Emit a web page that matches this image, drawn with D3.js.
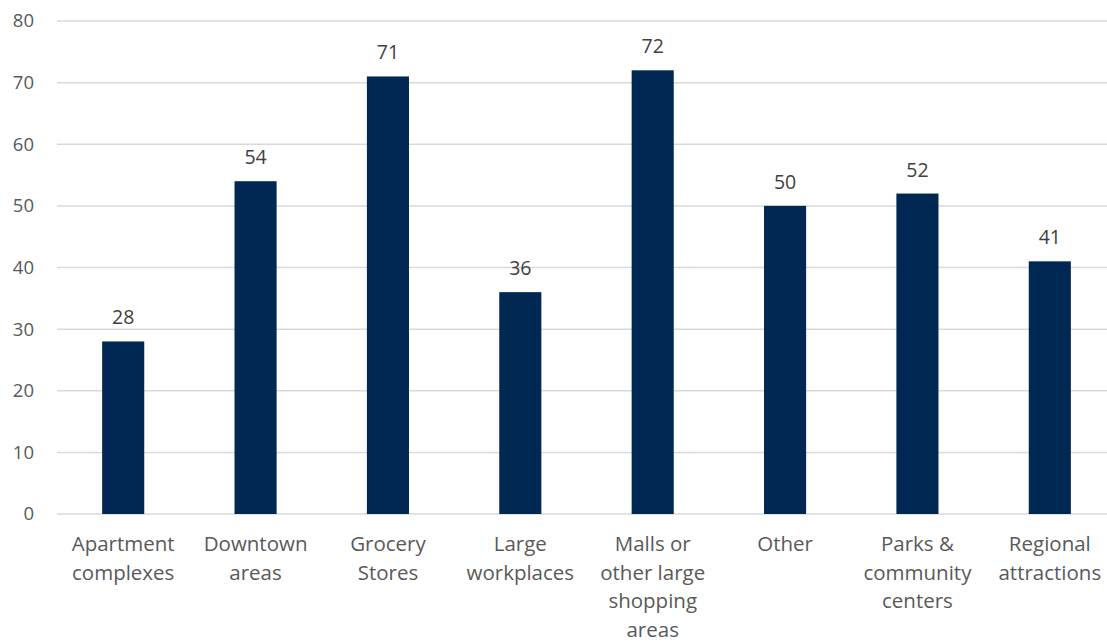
<html>
<head>
<script src="https://cdn.jsdelivr.net/npm/d3@7"></script>
<style>
body { margin: 0; background: white; }
text { font-family: "Open Sans", sans-serif; }
</style>
</head>
<body>
<div id="chart"></div>
<script>
// data
var categories = [
    ["Apartment", "complexes"],
    ["Downtown", "areas"],
    ["Grocery", "Stores"],
    ["Large", "workplaces"],
    ["Malls or", "other large", "shopping", "areas"],
    ["Other"],
    ["Parks &", "community", "centers"],
    ["Regional", "attractions"]
];
var values = [28, 54, 71, 36, 72, 50, 52, 41];
var yTicks = [0, 10, 20, 30, 40, 50, 60, 70, 80];

var width = 1107, height = 643;
var plotLeft = 57, plotRight = 1116, plotTop = 21, plotBottom = 514;

var svg = d3.select("#chart").append("svg")
    .attr("width", width)
    .attr("height", height);

var x = d3.scaleBand()
    .domain(d3.range(values.length))
    .range([plotLeft, plotRight])
    .paddingInner(0.682)
    .paddingOuter(0.341);

var y = d3.scaleLinear()
    .domain([0, 80])
    .range([plotBottom, plotTop]);

// gridlines
svg.append("g")
    .selectAll("line")
    .data(yTicks)
    .enter()
    .append("line")
    .attr("x1", plotLeft)
    .attr("x2", plotRight)
    .attr("y1", function(d) { return y(d); })
    .attr("y2", function(d) { return y(d); })
    .attr("stroke", "#d9d9d9")
    .attr("stroke-width", 1.5);

// y labels
svg.append("g")
    .selectAll("text")
    .data(yTicks)
    .enter()
    .append("text")
    .attr("x", 34)
    .attr("y", function(d) { return y(d); })
    .attr("dy", "0.35em")
    .attr("text-anchor", "end")
    .attr("font-size", 18.5)
    .attr("fill", "#595959")
    .text(function(d) { return d; });

// bars
svg.append("g")
    .selectAll("rect")
    .data(values)
    .enter()
    .append("rect")
    .attr("x", function(d, i) { return x(i); })
    .attr("y", function(d) { return y(d); })
    .attr("width", x.bandwidth())
    .attr("height", function(d) { return plotBottom - y(d); })
    .attr("fill", "#012853");

// value labels
svg.append("g")
    .selectAll("text")
    .data(values)
    .enter()
    .append("text")
    .attr("x", function(d, i) { return x(i) + x.bandwidth() / 2; })
    .attr("y", function(d) { return y(d) - 17; })
    .attr("text-anchor", "middle")
    .attr("font-size", 19.5)
    .attr("fill", "#404040")
    .text(function(d) { return d; });

// category labels
var cat = svg.append("g")
    .selectAll("text")
    .data(categories)
    .enter()
    .append("text")
    .attr("text-anchor", "middle")
    .attr("font-size", 20.5)
    .attr("fill", "#595959")
    .attr("transform", function(d, i) {
        return "translate(" + (x(i) + x.bandwidth() / 2) + ",551)";
    });

cat.selectAll("tspan")
    .data(function(d) { return d; })
    .enter()
    .append("tspan")
    .attr("x", 0)
    .attr("y", function(d, i) { return i * 28.7; })
    .text(function(d) { return d; });
</script>
</body>
</html>
